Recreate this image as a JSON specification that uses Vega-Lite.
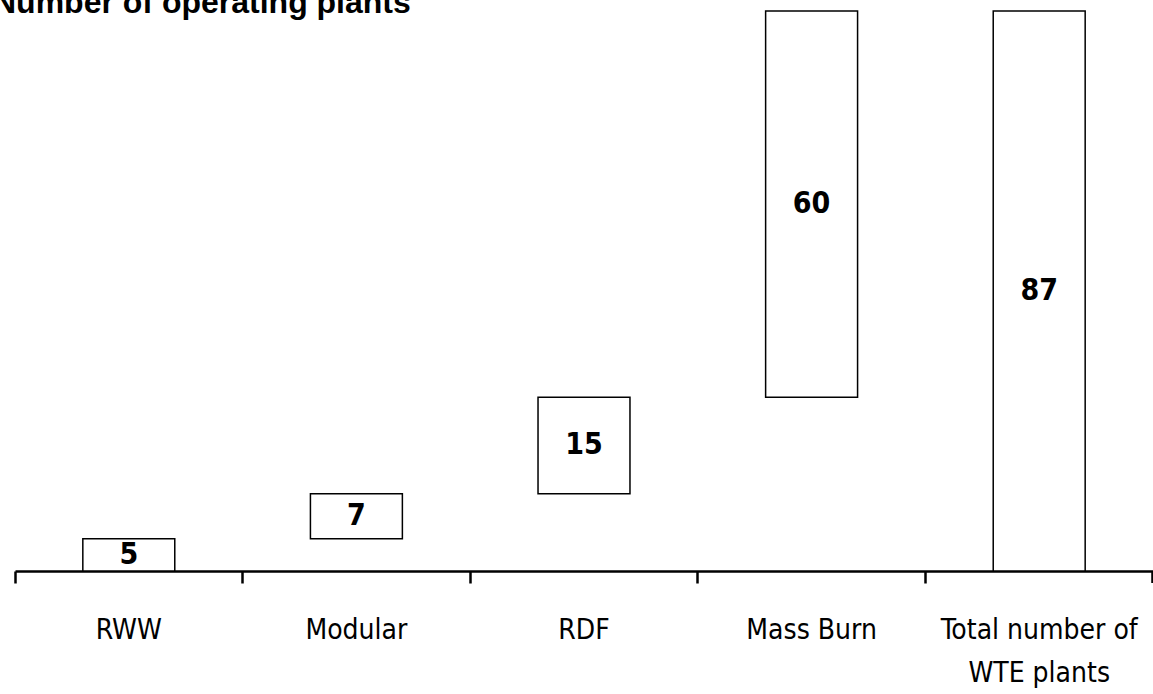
{
  "$schema": "https://vega.github.io/schema/vega-lite/v6.json",
  "autosize": {"type": "none"},
  "width": 1138,
  "height": 560,
  "padding": {"left": 15, "top": 11, "right": 0, "bottom": 123},
  "background": "white",
  "title": {
    "text": "Number of operating plants",
    "anchor": "start",
    "frame": "group",
    "font": "Liberation Sans",
    "fontSize": 32,
    "fontWeight": "bold",
    "color": "black",
    "baseline": "alphabetic",
    "offset": 0,
    "dx": -22,
    "dy": 35
  },
  "config": {
    "view": {"stroke": null},
    "axis": {"grid": false}
  },
  "data": {
    "values": [
      {"category": "RWW", "start": 0, "end": 5, "label": "5"},
      {"category": "Modular", "start": 5, "end": 12, "label": "7"},
      {"category": "RDF", "start": 12, "end": 27, "label": "15"},
      {"category": "Mass Burn", "start": 27, "end": 87, "label": "60"},
      {"category": "Total number of WTE plants", "start": 0, "end": 87, "label": "87"}
    ]
  },
  "transform": [{"calculate": "(datum.start + datum.end) / 2", "as": "mid"}],
  "encoding": {
    "x": {
      "field": "category",
      "type": "nominal",
      "sort": null,
      "scale": {"paddingInner": 0, "paddingOuter": 0},
      "axis": {
        "title": null,
        "bandPosition": 0,
        "domainColor": "black",
        "domainWidth": 2.5,
        "tickColor": "black",
        "tickWidth": 2.5,
        "tickSize": 12,
        "labelAngle": 0,
        "labelFont": "'Liberation Sans Narrow', 'Arial Narrow', 'DejaVu Sans Condensed', 'Liberation Sans'",
        "labelFontSize": 28,
        "labelColor": "black",
        "labelBaseline": "alphabetic",
        "labelPadding": 55,
        "labelLineHeight": 43,
        "labelFlush": false,
        "labelOverlap": false,
        "labelLimit": 300,
        "labelExpr": "datum.label == 'Total number of WTE plants' ? ['Total number of', 'WTE plants'] : datum.label"
      }
    }
  },
  "layer": [
    {
      "mark": {"type": "bar", "fill": "white", "stroke": "black", "strokeWidth": 1.5, "width": {"band": 0.404}},
      "encoding": {
        "y": {"field": "start", "type": "quantitative", "scale": {"domain": [0, 87], "nice": false, "zero": false}, "axis": null},
        "y2": {"field": "end"}
      }
    },
    {
      "mark": {"type": "text", "font": "'Liberation Sans Narrow', 'Arial Narrow', 'DejaVu Sans Condensed', 'Liberation Sans'", "fontSize": 30, "fontWeight": "bold", "color": "black", "baseline": "middle"},
      "encoding": {
        "y": {"field": "mid", "type": "quantitative"},
        "text": {"field": "label"}
      }
    },
    {
      "mark": {"type": "rule", "color": "black", "strokeWidth": 2.5},
      "encoding": {
        "x": {"datum": "Total number of WTE plants", "bandPosition": 1},
        "y": {"datum": 0},
        "y2": {"datum": -1.86}
      }
    }
  ]
}
